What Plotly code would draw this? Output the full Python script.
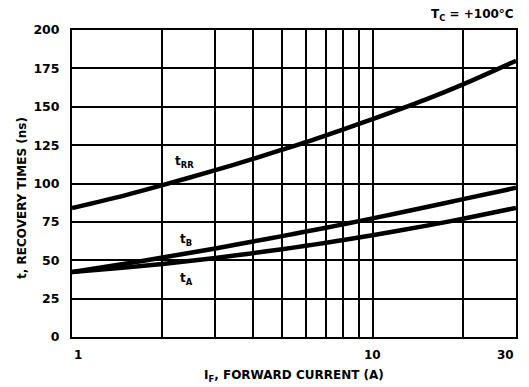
import math
import plotly.graph_objects as go

current = [1, 1.5, 2, 3, 4, 5, 6, 7, 8, 10, 15, 20, 30]
t_rr = [84, 92.3, 98.9, 108.7, 116, 122, 126.9, 131.4, 135.3, 142, 154.7, 164.6, 180]
t_b = [42.3, 47.7, 51.8, 57.7, 62.2, 65.7, 68.7, 71.2, 73.4, 77.3, 84.5, 89.8, 97.2]
t_a = [42.3, 45.2, 47.6, 51.5, 54.6, 57.2, 59.4, 61.4, 63.2, 66.3, 72.4, 77.0, 84.1]

grid_x = [1, 2, 3, 4, 5, 6, 7, 8, 9, 10, 20, 30]
x_labels = [(1, "1", "left"), (10, "10", "center"), (30, "30", "right")]
y_ticks = [0, 25, 50, 75, 100, 125, 150, 175, 200]

curve_labels = [(2.17, 114, "t<sub>RR</sub>"), (2.25, 63, "t<sub>B</sub>"), (2.25, 38, "t<sub>A</sub>")]

font = "DejaVu Sans, Liberation Sans, Arial, sans-serif"
fig = go.Figure()
for ys in (t_rr, t_b, t_a):
    fig.add_trace(go.Scatter(x=current, y=ys, mode="lines",
                             line=dict(color="black", width=4.5, shape="spline", smoothing=0.8),
                             showlegend=False, hoverinfo="skip"))

for x, y, t in curve_labels:
    fig.add_annotation(x=math.log10(x), y=y, xref="x", yref="y", text="<b>" + t + "</b>", showarrow=False,
                       xanchor="left", yanchor="middle", font=dict(size=12, color="black", family=font))

for x, t, anchor in x_labels:
    fig.add_annotation(x=math.log10(x), y=0, xref="x", yref="paper", text="<b>" + t + "</b>", showarrow=False,
                       xanchor=anchor, yanchor="middle", yshift=-18, font=dict(size=12, color="black", family=font))

fig.add_annotation(x=0.5, y=0, xref="paper", yref="paper", text="<b>I<sub>F</sub>, FORWARD CURRENT (A)</b>",
                   showarrow=False, xanchor="center", yanchor="middle", yshift=-39,
                   font=dict(size=12, color="black", family=font))
fig.add_annotation(x=0, y=0.453, xref="paper", yref="paper", text="<b>t, RECOVERY TIMES (ns)</b>",
                   showarrow=False, xanchor="center", yanchor="middle", xshift=-50, textangle=-90,
                   font=dict(size=12, color="black", family=font))
fig.add_annotation(x=1.0, y=1.0, xref="paper", yref="paper", text="<b>T<sub>C</sub> = +100°C</b>",
                   showarrow=False, xanchor="right", yanchor="middle", yshift=15,
                   font=dict(size=12, color="black", family=font))

# page body has an 8px default margin, so the figure is offset by (8, 8)
fig.update_layout(
    width=521, height=379,
    margin=dict(l=64, r=13, t=22, b=50),
    paper_bgcolor="white", plot_bgcolor="white",
    font=dict(family=font, color="black", size=12),
)
fig.update_xaxes(type="log", range=[0, math.log10(30)], tickvals=grid_x, showticklabels=False,
                 showgrid=True, gridcolor="black", gridwidth=1.8, showline=True, linecolor="black",
                 linewidth=2, mirror=True, ticks="", zeroline=False)
fig.update_yaxes(range=[0, 200], tickvals=y_ticks, showgrid=True, gridcolor="black", gridwidth=1.8,
                 showline=True, linecolor="black", linewidth=2, mirror=True, ticks="", zeroline=False,
                 ticklabelstandoff=8, tickfont=dict(size=12.5, weight="bold", family=font))
fig.write_html("out.html")
